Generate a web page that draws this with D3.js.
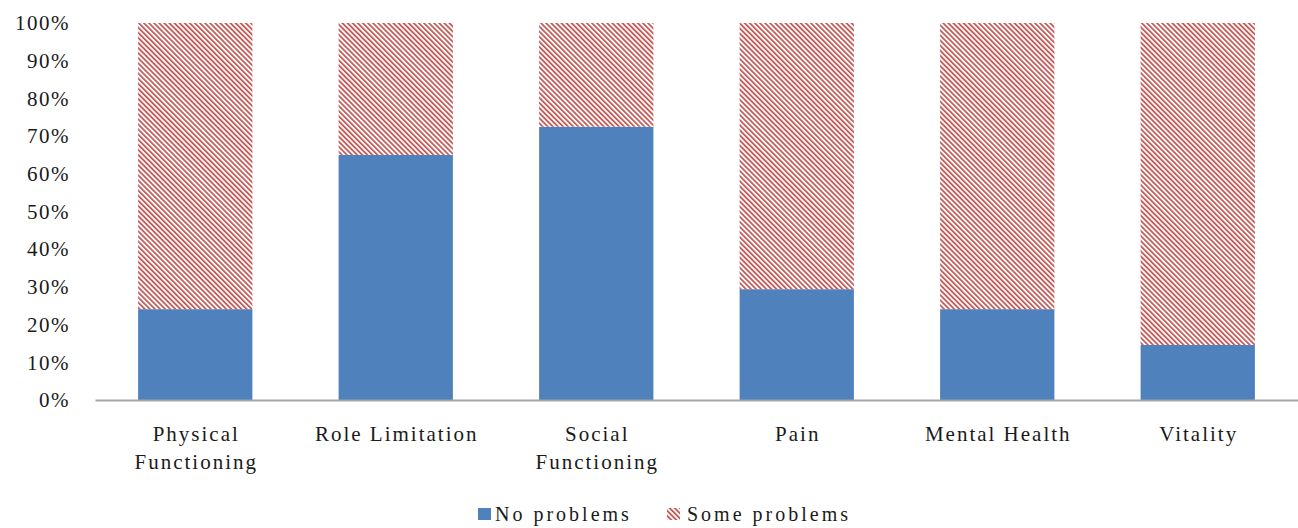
<!DOCTYPE html>
<html>
<head>
<meta charset="utf-8">
<script src="https://cdn.jsdelivr.net/npm/d3@7"></script>
<style>
  body { margin: 0; background: #fff; }
  text { font-family: "Liberation Serif", "Times New Roman", serif; fill: #1a1a1a; }
</style>
</head>
<body>
<div id="chart"></div>
<script>
// data
var categories = [["Physical", "Functioning"], ["Role Limitation"], ["Social", "Functioning"], ["Pain"], ["Mental Health"], ["Vitality"]];
var noProblems = [24.1, 65, 72.5, 29.4, 24.1, 14.6];
var someProblems = noProblems.map(function(v) { return 100 - v; });
var yTicks = [0, 10, 20, 30, 40, 50, 60, 70, 80, 90, 100];
var seriesNames = ["No problems", "Some problems"];

var width = 1298, height = 528;
var margin = {top: 23, right: 0, bottom: 128, left: 95};

var svg = d3.select("#chart").append("svg")
	.attr("width", width)
	.attr("height", height);

var defs = svg.append("defs");
var pat = defs.append("pattern")
	.attr("id", "hatch")
	.attr("patternUnits", "userSpaceOnUse")
	.attr("width", 3.6)
	.attr("height", 3.6)
	.attr("patternTransform", "rotate(45)");
pat.append("rect").attr("width", 3.6).attr("height", 3.6).attr("fill", "#fff");
pat.append("line")
	.attr("x1", 0).attr("y1", 1).attr("x2", 3.6).attr("y2", 1)
	.attr("stroke", "#c0504d")
	.attr("stroke-width", 1.7);

var x = d3.scaleBand()
	.domain(d3.range(categories.length))
	.range([margin.left, width - margin.right])
	.paddingInner(0.43)
	.paddingOuter(0.215);

var y = d3.scaleLinear()
	.domain([0, 100])
	.range([height - margin.bottom, margin.top]);

// y tick labels, no axis line
var yAxis = d3.axisLeft(y).tickValues(yTicks).tickFormat(function(d) { return d + "%"; }).tickSize(0).tickPadding(0);
var gy = svg.append("g").attr("transform", "translate(70,0)").call(yAxis);
gy.select(".domain").remove();
gy.selectAll("text")
	.style("font-family", "Liberation Serif, serif")
	.style("font-size", "21px")
	.style("letter-spacing", "1.5px")
	.attr("fill", "#1a1a1a");

// stacked bars
var bars = svg.append("g");
bars.selectAll("rect.no").data(noProblems).enter().append("rect")
	.attr("class", "no")
	.attr("x", function(d, i) { return x(i); })
	.attr("width", x.bandwidth())
	.attr("y", function(d) { return y(d); })
	.attr("height", function(d) { return y(0) - y(d); })
	.attr("fill", "#4f81bd");
bars.selectAll("rect.some").data(someProblems).enter().append("rect")
	.attr("class", "some")
	.attr("x", function(d, i) { return x(i); })
	.attr("width", x.bandwidth())
	.attr("y", function(d, i) { return y(noProblems[i] + d); })
	.attr("height", function(d) { return y(0) - y(d); })
	.attr("fill", "url(#hatch)");

// x axis line + labels
var xAxis = d3.axisBottom(x).tickSize(0).tickFormat("");
var gx = svg.append("g").attr("transform", "translate(0," + y(0) + ")").call(xAxis);
gx.select(".domain").attr("stroke", "#a6a6a6").attr("stroke-width", 2);

var labels = svg.append("g");
categories.forEach(function(lines, i) {
	var cx = x(i) + x.bandwidth() / 2 + 1;
	var t = labels.append("text")
		.attr("x", cx)
		.attr("y", 441)
		.attr("text-anchor", "middle")
		.style("font-size", "21px")
		.style("letter-spacing", "2px");
	lines.forEach(function(l, k) {
		t.append("tspan").attr("x", cx).attr("dy", k === 0 ? 0 : 28).text(l);
	});
});

// legend
var leg = svg.append("g");
leg.append("rect").attr("x", 478).attr("y", 508).attr("width", 13).attr("height", 12).attr("fill", "#4f81bd");
leg.append("text").attr("x", 495).attr("y", 521).style("font-size", "20px").style("letter-spacing", "3px").text(seriesNames[0]);
leg.append("rect").attr("x", 667).attr("y", 508).attr("width", 13).attr("height", 12).attr("fill", "url(#hatch)");
leg.append("text").attr("x", 687).attr("y", 521).style("font-size", "20px").style("letter-spacing", "3px").text(seriesNames[1]);
</script>
</body>
</html>
